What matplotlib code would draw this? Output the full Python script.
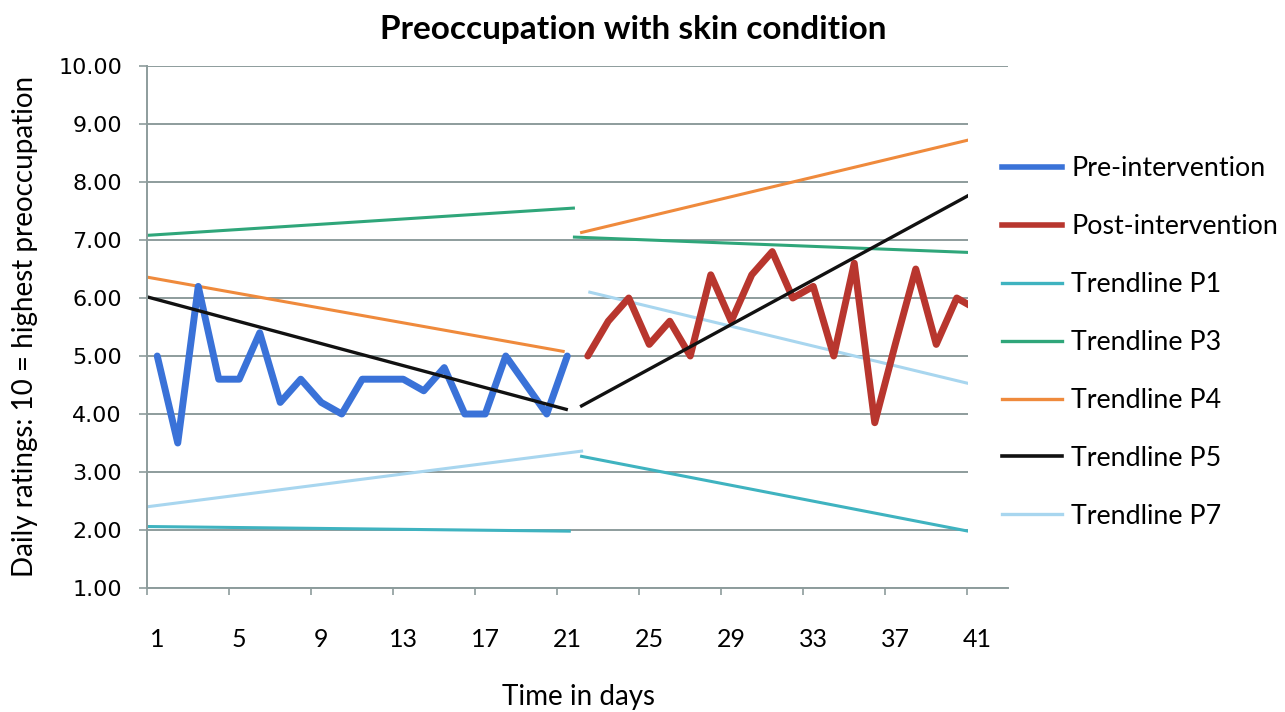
import matplotlib.pyplot as plt
from matplotlib.patches import Rectangle

# daily ratings
days_pre = list(range(1, 22))
pre = [5.0, 3.5, 6.2, 4.6, 4.6, 5.4, 4.2, 4.6, 4.2, 4.0, 4.6, 4.6, 4.6, 4.4,
       4.8, 4.0, 4.0, 5.0, 4.5, 4.0, 5.0]
days_post = list(range(22, 42))
post = [5.0, 5.6, 6.0, 5.2, 5.6, 5.0, 6.4, 5.6, 6.4, 6.8, 6.0, 6.2, 5.0, 6.6,
        3.85, 5.2, 6.5, 5.2, 6.0, 5.8]

# trendline end points (pre and post segment for each)
p1_pre_x, p1_pre_y = [0.5, 21.1], [2.06, 1.98]
p1_post_x, p1_post_y = [21.7, 41], [3.27, 1.95]
p3_pre_x, p3_pre_y = [0.5, 21.3], [7.08, 7.55]
p3_post_x, p3_post_y = [21.35, 41], [7.05, 6.78]
p4_pre_x, p4_pre_y = [0.5, 20.8], [6.36, 5.08]
p4_post_x, p4_post_y = [21.7, 41], [7.13, 8.76]
p5_pre_x, p5_pre_y = [0.5, 20.95], [6.02, 4.08]
p5_post_x, p5_post_y = [21.7, 41], [4.14, 7.85]
p7_pre_x, p7_pre_y = [0.5, 21.7], [2.40, 3.36]
p7_post_x, p7_post_y = [22.1, 41], [6.1, 4.49]

xtick_labels = ['1', '5', '9', '13', '17', '21', '25', '29', '33', '37', '41']

c_pre = '#3a72d8'
c_post = '#b8362e'
c_p1 = '#3fb3c0'
c_p3 = '#2fa67a'
c_p4 = '#ef8a3c'
c_p5 = '#111111'
c_p7 = '#a8d6ef'
grid_c = '#8d9c9c'

plt.rcParams['font.family'] = ['Lato', 'DejaVu Sans']

fig = plt.figure(figsize=(12.85, 7.12), dpi=100)
ax = fig.add_axes([147/1285, 1-588/712, (1008-147)/1285, (588-66)/712])

tw = 2.2
ax.plot(p1_pre_x, p1_pre_y, color=c_p1, lw=tw)
ax.plot(p1_post_x, p1_post_y, color=c_p1, lw=tw)
ax.plot(p3_pre_x, p3_pre_y, color=c_p3, lw=tw)
ax.plot(p3_post_x, p3_post_y, color=c_p3, lw=tw)
ax.plot(p4_pre_x, p4_pre_y, color=c_p4, lw=tw)
ax.plot(p4_post_x, p4_post_y, color=c_p4, lw=tw)
ax.plot(p7_pre_x, p7_pre_y, color=c_p7, lw=tw)
ax.plot(p7_post_x, p7_post_y, color=c_p7, lw=tw)
ax.plot(days_pre, pre, color=c_pre, lw=5, solid_joinstyle='round', solid_capstyle='round')
ax.plot(days_post, post, color=c_post, lw=5, solid_joinstyle='round', solid_capstyle='round')
ax.plot(p5_pre_x, p5_pre_y, color=c_p5, lw=2.4)
ax.plot(p5_post_x, p5_post_y, color=c_p5, lw=2.4)

ax.set_xlim(0.5, 42.5)
ax.set_ylim(1, 10)
ax.set_yticks(range(1, 11))
ax.set_yticklabels(['%.2f' % v for v in range(1, 11)], family='DejaVu Sans', fontsize=16)
ax.set_xticks(range(1, 42, 4))
ax.set_xticklabels(xtick_labels, fontsize=18)
ax.set_xticks([0.5 + 4 * k for k in range(11)], minor=True)
ax.tick_params(axis='x', which='major', length=0, pad=29)
ax.tick_params(axis='x', which='minor', length=5, color=grid_c, width=1.2)
ax.tick_params(axis='y', length=6, color=grid_c, width=1.2, pad=12)
ax.grid(axis='y', color=grid_c, lw=1.4)
ax.set_axisbelow(True)
for s in ['top', 'right']:
    ax.spines[s].set_visible(False)
ax.spines['left'].set_color(grid_c)
ax.spines['bottom'].set_color(grid_c)
ax.spines['left'].set_linewidth(1.4)
ax.spines['bottom'].set_linewidth(1.4)

# white legend box overlapping the plot area
fig.add_artist(Rectangle((968/1285, 1-560/712), 1, (560-95)/712, transform=fig.transFigure,
                         facecolor='white', edgecolor='none', zorder=5))

handles = [
    plt.Line2D([], [], color=c_pre, lw=4),
    plt.Line2D([], [], color=c_post, lw=4),
    plt.Line2D([], [], color=c_p1, lw=2.4),
    plt.Line2D([], [], color=c_p3, lw=2.4),
    plt.Line2D([], [], color=c_p4, lw=2.4),
    plt.Line2D([], [], color=c_p5, lw=2.6),
    plt.Line2D([], [], color=c_p7, lw=2.4),
]
labels = ['Pre-intervention', 'Post-intervention', 'Trendline P1', 'Trendline P3',
          'Trendline P4', 'Trendline P5', 'Trendline P7']
leg = fig.legend(handles, labels, loc='upper left', bbox_to_anchor=(1002/1285, 1-156/712),
                 frameon=False, fontsize=19.3, handlelength=2.25, handletextpad=0.33,
                 labelspacing=1.23, borderpad=0, borderaxespad=0)
leg.set_zorder(6)

fig.text(633/1285, 1-30/712, 'Preoccupation with skin condition', fontsize=24,
         fontweight='bold', ha='center', va='center')
fig.text(25/1285, 1-326/712, 'Daily ratings: 10 = highest preoccupation', fontsize=20,
         rotation=90, ha='center', va='center')
fig.text(578/1285, 1-697/712, 'Time in days', fontsize=20, ha='center', va='center')

fig.savefig('out.png', dpi=100, facecolor='white')
